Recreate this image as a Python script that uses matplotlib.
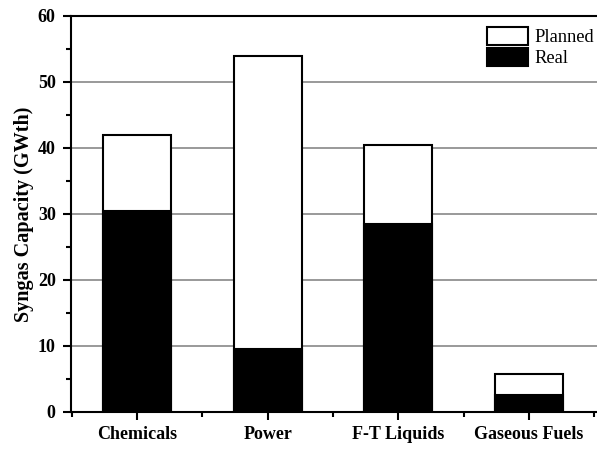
import numpy as np
import matplotlib
matplotlib.use("Agg")
import matplotlib.pyplot as plt
from matplotlib.ticker import MultipleLocator

categories = ['Chemicals', 'Power', 'F-T Liquids', 'Gaseous Fuels']
real = [30.5, 9.5, 28.5, 2.6]
planned_total = [42.0, 54.0, 40.5, 5.7]

plt.rcParams['font.family'] = ['Liberation Serif', 'DejaVu Serif']

fig = plt.figure(figsize=(5.97, 4.49), dpi=100)
W, H = 597.0, 449.0
ax = fig.add_axes([71 / W, 37 / H, 531 / W, 396 / H])

x = np.arange(len(categories))
width = 0.52
ax.bar(x, planned_total, width, color='white', edgecolor='black',
       linewidth=1.5, label='Planned', zorder=2)
ax.bar(x, real, width, color='black', edgecolor='black',
       linewidth=1.5, label='Real', zorder=3)

ax.set_xlim(-0.505, 3.56)
ax.set_ylim(0, 60)
ax.set_xticks(x)
ax.set_xticklabels(categories, fontsize=13, fontweight='bold')
ax.set_xticks(np.arange(-0.5, 4.0, 1.0), minor=True)
ax.yaxis.set_major_locator(MultipleLocator(10))
ax.yaxis.set_minor_locator(MultipleLocator(5))
for lbl in ax.get_yticklabels():
    lbl.set_fontsize(13)
    lbl.set_fontweight('bold')

ax.tick_params(which='major', direction='out', length=6, width=1.5)
ax.tick_params(which='minor', direction='out', length=3.5, width=1.5)
ax.tick_params(axis='y', which='major', pad=5)
ax.tick_params(axis='x', which='major', pad=4)
ax.yaxis.grid(True, color='#888888', linewidth=1.2, zorder=0)
ax.set_axisbelow(True)
for s in ax.spines.values():
    s.set_linewidth(1.5)

ax.set_ylabel('Syngas Capacity (GWth)', fontsize=14.5, fontweight='bold', labelpad=3)

leg = ax.legend(loc='upper left', bbox_to_anchor=(416 / 531, 0.972), frameon=False,
                fontsize=13.3, handlelength=2.2, handleheight=1.1,
                handletextpad=0.35, labelspacing=0.1, borderaxespad=0,
                borderpad=0)

fig.savefig('out.png', dpi=100)
